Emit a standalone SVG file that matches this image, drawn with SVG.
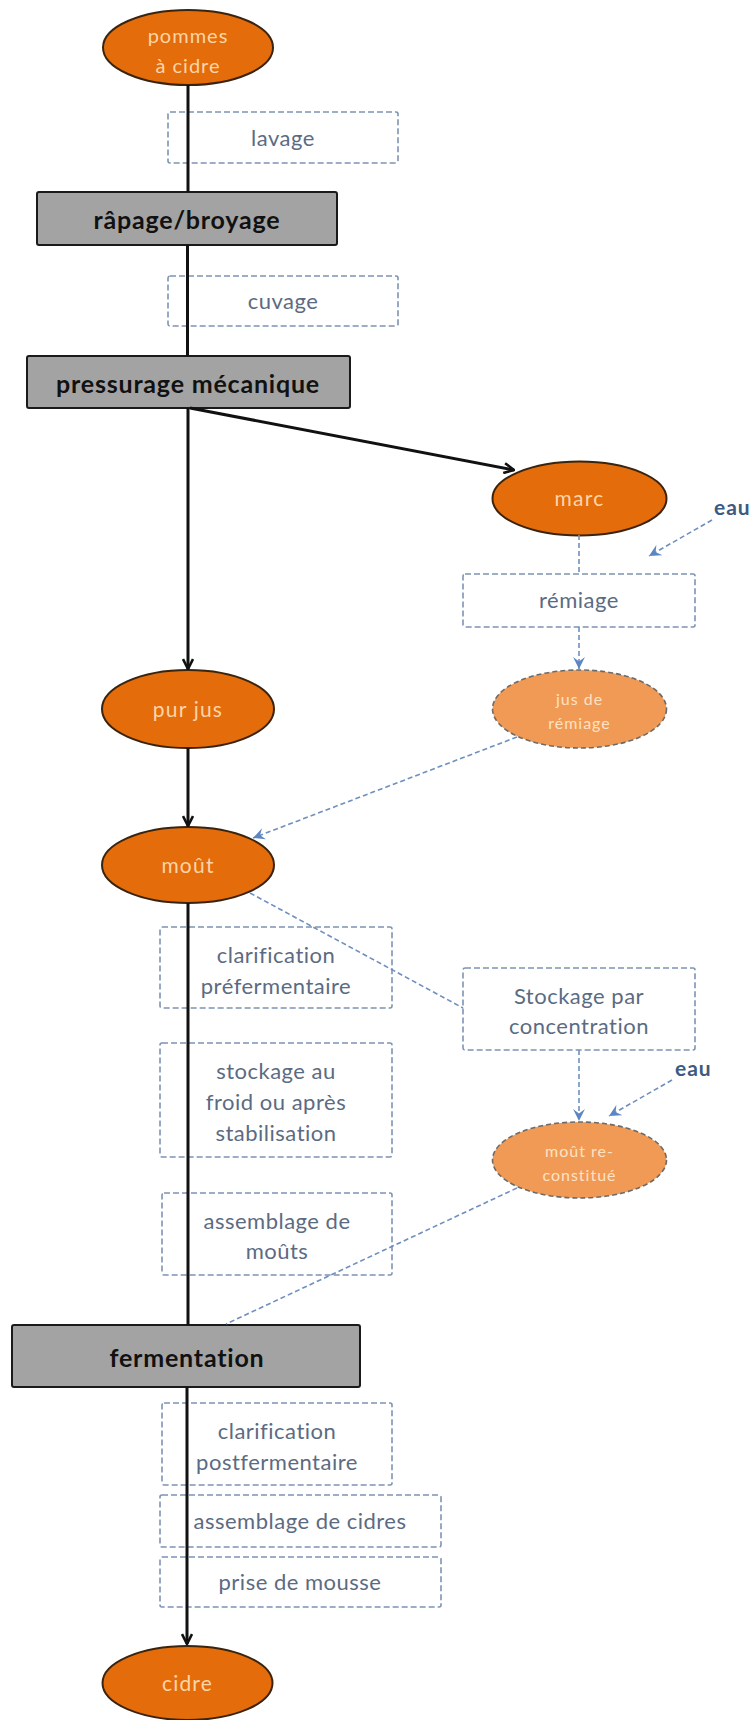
<svg xmlns="http://www.w3.org/2000/svg" width="753" height="1720" viewBox="0 0 753 1720">
<defs>
<style>
.bg{fill:#ffffff}
.proc rect{fill:#a3a3a3;stroke:#1a1a1a;stroke-width:2}
.proc text{font-family:Lato,"Liberation Sans",sans-serif;font-weight:bold;font-size:25px;letter-spacing:0.8px;fill:#111111;text-anchor:middle}
.step rect{fill:none;stroke:#7d93b3;stroke-width:1.6;stroke-dasharray:6 3}
.step text{font-family:Lato,"Liberation Sans",sans-serif;font-size:22px;letter-spacing:0.5px;fill:#5b6b82;text-anchor:middle}
.prod ellipse{fill:#e46c0a;stroke:#3a2410;stroke-width:2}
.prod text{font-family:Lato,"Liberation Sans",sans-serif;font-size:21px;letter-spacing:1.2px;fill:#fcd5a8;text-anchor:middle}
.sub ellipse{fill:#f09a55;stroke:#6b6b6b;stroke-width:1.6;stroke-dasharray:5 3}
.sub text{font-family:Lato,"Liberation Sans",sans-serif;font-size:16px;letter-spacing:1px;fill:#fde2c4;text-anchor:middle}
.lbl{font-family:Lato,"Liberation Sans",sans-serif;font-weight:bold;font-size:21px;letter-spacing:1px;fill:#3d5a80}
.main{stroke:#111111;stroke-width:3;fill:none}
.dash{stroke:#6f8fbf;stroke-width:1.6;fill:none;stroke-dasharray:5 3}
</style>
<marker id="ah" viewBox="0 0 12 12" refX="11" refY="6" markerWidth="12" markerHeight="12" markerUnits="userSpaceOnUse" orient="auto">
<path d="M1,1 L11,6 L1,11" fill="none" stroke="#111111" stroke-width="2.6"/>
</marker>
<marker id="bh" viewBox="0 0 12 12" refX="11" refY="6" markerWidth="13" markerHeight="13" markerUnits="userSpaceOnUse" orient="auto">
<path d="M0,0.5 L11,6 L0,11.5 L4,6 Z" fill="#5b86c2"/>
</marker>
</defs>
<rect class="bg" x="0" y="0" width="753" height="1720"/>

<g id="pommes" class="prod"><ellipse cx="188" cy="47.5" rx="85" ry="37.5"/><text x="188" y="43" style="font-size:20px;letter-spacing:1px">pommes</text><text x="188" y="73" style="font-size:20px;letter-spacing:1px">à cidre</text></g>
<g id="lavage" class="step"><rect x="168" y="112" width="230" height="51" rx="2"/><text x="283" y="146">lavage</text></g>
<g id="rapage" class="proc"><rect x="37" y="192" width="300" height="53" rx="2"/><text x="187" y="229">râpage/broyage</text></g>
<g id="cuvage" class="step"><rect x="168" y="276" width="230" height="50" rx="2"/><text x="283" y="309">cuvage</text></g>
<g id="pressurage" class="proc"><rect x="27" y="356" width="323" height="52" rx="2"/><text x="188" y="393">pressurage mécanique</text></g>

<g id="marc" class="prod"><ellipse cx="579.5" cy="498.5" rx="87" ry="37"/><text x="579.5" y="506">marc</text></g>
<g id="eau1"><text class="lbl" x="714" y="515">eau</text></g>
<g id="remiage" class="step"><rect x="463" y="574" width="232" height="53" rx="2"/><text x="579" y="608">rémiage</text></g>
<g id="jusremiage" class="sub"><ellipse cx="579.5" cy="709" rx="87" ry="39"/><text x="579.5" y="705">jus de</text><text x="579.5" y="729">rémiage</text></g>

<g id="purjus" class="prod"><ellipse cx="188" cy="709" rx="86" ry="39"/><text x="188" y="717">pur jus</text></g>
<g id="mout" class="prod"><ellipse cx="188" cy="865" rx="86" ry="38"/><text x="188" y="873">moût</text></g>

<g id="clarpre" class="step"><rect x="160" y="927" width="232" height="81" rx="2"/><text x="276" y="963">clarification</text><text x="276" y="994">préfermentaire</text></g>
<g id="stockfroid" class="step"><rect x="160" y="1043" width="232" height="114" rx="2"/><text x="276" y="1079">stockage au</text><text x="276" y="1110">froid ou après</text><text x="276" y="1141">stabilisation</text></g>
<g id="assmouts" class="step"><rect x="162" y="1193" width="230" height="82" rx="2"/><text x="277" y="1229">assemblage de</text><text x="277" y="1259">moûts</text></g>

<g id="stockconc" class="step"><rect x="463" y="968" width="232" height="82" rx="2"/><text x="579" y="1004">Stockage par</text><text x="579" y="1034">concentration</text></g>
<g id="eau2"><text class="lbl" x="675" y="1076">eau</text></g>
<g id="moutrec" class="sub"><ellipse cx="579.5" cy="1160" rx="87" ry="38"/><text x="579.5" y="1157">moût re-</text><text x="579.5" y="1181">constitué</text></g>

<g id="fermentation" class="proc"><rect x="12" y="1325" width="348" height="62" rx="2"/><text x="187" y="1367">fermentation</text></g>
<g id="clarpost" class="step"><rect x="162" y="1403" width="230" height="82" rx="2"/><text x="277" y="1439">clarification</text><text x="277" y="1470">postfermentaire</text></g>
<g id="asscidres" class="step"><rect x="160" y="1495" width="281" height="52" rx="2"/><text x="300" y="1529">assemblage de cidres</text></g>
<g id="prise" class="step"><rect x="160" y="1557" width="281" height="50" rx="2"/><text x="300" y="1590">prise de mousse</text></g>
<g id="cidre" class="prod"><ellipse cx="187.5" cy="1683" rx="85" ry="37"/><text x="187.5" y="1691">cidre</text></g>

<g id="connectors">
<line class="main" x1="188" y1="85" x2="188" y2="192"/>
<line class="main" x1="187.5" y1="245" x2="187.5" y2="356"/>
<line class="main" x1="188" y1="408" x2="188" y2="669" marker-end="url(#ah)"/>
<line class="main" x1="190" y1="408" x2="514" y2="470" marker-end="url(#ah)"/>
<line class="main" x1="188" y1="748" x2="188" y2="826" marker-end="url(#ah)"/>
<line class="main" x1="188" y1="903" x2="188" y2="1325"/>
<line class="main" x1="187" y1="1387" x2="187" y2="1644" marker-end="url(#ah)"/>
<line class="dash" x1="712" y1="520" x2="649" y2="556" marker-end="url(#bh)"/>
<line class="dash" x1="579" y1="535" x2="579" y2="574"/>
<line class="dash" x1="579" y1="627" x2="579" y2="669" marker-end="url(#bh)"/>
<line class="dash" x1="517" y1="737" x2="253" y2="838" marker-end="url(#bh)"/>
<line class="dash" x1="250" y1="893" x2="463" y2="1008"/>
<line class="dash" x1="579" y1="1050" x2="579" y2="1121" marker-end="url(#bh)"/>
<line class="dash" x1="672" y1="1080" x2="609" y2="1116" marker-end="url(#bh)"/>
<line class="dash" x1="517" y1="1188" x2="226" y2="1324"/>
</g>
</svg>
